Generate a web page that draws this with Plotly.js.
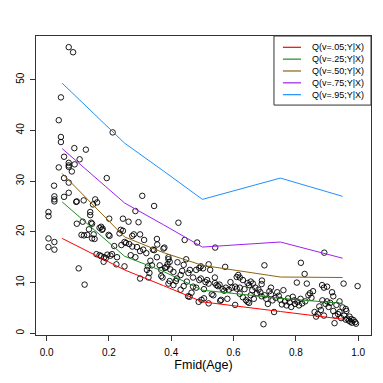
<!DOCTYPE html>
<html>
<head>
<meta charset="utf-8">
<script src="https://cdn.plot.ly/plotly-3.0.1.min.js"></script>
<style>
  html, body { margin: 0; padding: 0; background: #fff; }
  #graph { width: 383px; height: 383px; }
</style>
</head>
<body>
<div id="graph"></div>
<script>
var fmid = [
  0.006,0.006,0.006,0.006,0.025,0.025,0.024,0.025,0.025,0.025,0.039,0.039,0.046,0.046,0.046,0.056,0.056,0.056,
  0.071,0.085,0.071,0.071,0.071,0.071,0.071,0.089,0.090,0.081,0.095,0.097,0.097,0.103,
  0.106,0.126,0.119,0.116,0.112,0.12,0.13,0.122,0.136,0.14,0.14,0.143,0.146,0.149,0.151,0.154,0.146,0.156,
  0.162,0.17,0.175,0.178,0.18,0.16,0.17,0.175,0.185,0.19,0.195,0.183,0.193,0.199,
  0.212,0.201,0.202,0.217,0.226,0.224,0.21,0.205,0.234,0.238,0.245,0.245,0.25,0.255,0.25,0.263,0.27,0.275,
  0.28,0.285,0.275,0.29,0.295,0.285,0.265,0.3,0.24,
  0.307,0.345,0.313,0.30,0.31,0.32,0.354,0.355,0.341,0.345,0.375,0.378,0.333,0.338,0.325,0.322,0.33,0.327,
  0.30,0.368,0.372,0.38,0.385,0.368,0.363,0.354,0.391,0.388,0.397,0.395,0.391,0.391,0.395,
  0.423,0.443,0.448,0.483,0.407,0.407,0.415,0.418,0.43,0.435,0.455,0.46,0.47,0.454,0.459,0.49,0.495,0.48,
  0.49,0.495,0.44,0.42,0.45,0.47,0.465,0.48,0.43,0.44,0.488,0.497,
  0.502,0.52,0.525,0.541,0.505,0.51,0.515,0.52,0.54,0.545,0.55,0.555,0.54,0.573,0.53,0.535,0.557,0.56,
  0.565,0.57,0.575,0.585,0.59,0.595,0.58,0.505,0.52,
  0.61,0.615,0.62,0.63,0.605,0.61,0.62,0.635,0.645,0.65,0.655,0.66,0.662,0.67,0.68,0.691,0.69,0.699,
  0.63,0.64,0.645,0.65,0.655,0.665,0.675,0.686,0.69,0.696,0.62,0.605,
  0.70,0.705,0.71,0.715,0.72,0.725,0.73,0.735,0.74,0.745,0.75,0.755,0.76,0.765,0.77,0.775,0.78,0.785,
  0.79,0.795,0.797,0.72,
  0.803,0.816,0.828,0.835,0.805,0.81,0.815,0.82,0.83,0.84,0.845,0.85,0.855,0.86,0.865,0.87,0.875,0.88,
  0.884,0.89,0.891,0.895,0.9,0.9,0.885,0.89,
  0.905,0.91,0.916,0.92,0.92,0.924,0.926,0.93,0.935,0.94,0.945,0.95,0.953,0.955,0.96,0.962,0.965,0.97,
  0.972,0.975,0.978,0.98,0.985,0.99,0.993,0.998,0.96,0.94
];
var yval = [
  23.9,23.1,18.7,17.0,18.0,16.5,29.1,27.0,26.4,26.0,42.0,32.7,46.5,38.7,37.7,34.8,30.6,26.9,
  56.4,55.4,33.6,33.1,32.8,29.7,27.7,36.5,33.3,31.9,25.9,26.0,21.6,12.8,
  34.3,36.2,26.2,22.0,19.4,19.3,19.4,9.6,20.5,23.9,23.3,21.8,21.6,25.4,19.5,18.6,18.7,26.4,
  25.8,20.8,21.0,20.4,20.6,15.6,15.4,15.2,15.0,14.8,15.5,14.1,30.6,19.4,
  39.6,22.6,19.2,17.2,15.0,13.6,15.6,15.3,19.7,20.4,20.2,22.6,18.0,17.8,13.2,22.0,15.4,19.2,
  19.5,24.1,17.1,17.0,21.9,15.0,17.6,19.5,17.4,
  27.1,25.1,18.4,16.2,16.5,15.8,18.6,17.5,16.5,16.4,16.7,16.9,14.3,13.4,13.2,12.5,11.9,11.0,
  10.8,11.3,11.0,12.9,13.1,12.5,13.4,15.0,15.0,13.6,12.6,14.1,14.6,9.8,10.3,
  21.8,18.4,14.6,17.9,12.1,9.5,10.3,10.8,11.5,12.3,11.9,12.5,9.2,7.3,7.2,12.9,13.2,12.5,
  10.5,10.8,13.5,14.0,10.2,11.0,8.0,9.0,8.6,9.3,6.2,6.6,
  12.8,13.6,12.5,16.9,8.7,10.1,10.5,9.8,9.9,9.5,9.3,9.6,11.0,13.1,7.7,7.5,6.4,6.6,
  8.7,8.4,9.0,8.6,10.1,9.0,6.8,6.9,5.9,
  11.1,11.5,11.0,10.5,9.2,8.8,9.0,8.7,9.9,9.5,10.2,8.5,9.8,9.0,8.6,10.4,9.7,13.4,
  7.1,6.5,6.2,6.0,7.5,6.8,7.9,8.1,7.3,1.8,7.8,5.6,
  7.5,6.8,5.8,8.3,7.7,6.5,4.2,7.0,8.1,7.4,6.6,5.7,8.5,6.3,5.5,6.9,6.1,5.2,
  7.2,6.5,5.8,9.0,
  10.0,13.9,11.7,9.8,6.2,5.5,6.8,5.9,6.3,7.5,7.9,7.0,8.3,4.2,3.3,3.8,5.3,4.6,
  9.5,9.0,15.9,5.8,9.2,6.3,6.5,3.5,
  5.2,6.0,8.1,7.3,4.4,2.0,3.5,5.6,3.8,4.2,3.0,5.1,9.8,3.5,2.7,4.4,2.9,2.5,
  3.3,2.3,2.8,2.1,2.6,2.2,1.9,9.3,4.8,6.3
];

// conditional quantile curves
var qx = [0.05, 0.15, 0.25, 0.375, 0.5, 0.75, 0.95];
var q05 = [18.7, 15.6, 12.5, 9.4, 6.2, 4.3, 2.8];
var q25 = [25.9, 20.5, 15.2, 12.2, 8.5, 6.9, 5.9];
var q50 = [31.5, 25.2, 19.0, 15.9, 13.4, 11.1, 11.0];
var q75 = [36.4, 31.0, 25.7, 21.4, 17.0, 18.0, 14.8];
var q95 = [49.3, 43.4, 37.5, 32.0, 26.4, 30.6, 27.0];

var qNames = ['Q(v=.05;Y|X)', 'Q(v=.25;Y|X)', 'Q(v=.50;Y|X)', 'Q(v=.75;Y|X)', 'Q(v=.95;Y|X)'];
var qColors = ['#ff0000', '#1f8b1f', '#8b6410', '#a020f0', '#1e90ff'];
var qVals = [q05, q25, q50, q75, q95];

var fnt = 'Liberation Sans, Arial, Helvetica, sans-serif';

var traces = [{
    x: fmid,
    y: yval,
    mode: 'markers',
    type: 'scatter',
    marker: {symbol: 'circle-open', size: 5.5, color: '#000', line: {width: 0.9}},
    hoverinfo: 'skip'
}];

for (var i = 0; i < qVals.length; i++){
    traces.push({
        x: qx,
        y: qVals[i],
        mode: 'lines',
        type: 'scatter',
        line: {color: qColors[i], width: 1},
        name: qNames[i]
    });
}

// R-style compact legend box (plotly's own legend rows are too tall)
var shapes = [{
    type: 'rect', xref: 'paper', yref: 'paper',
    x0: 0.7104, x1: 1, y0: 0.769, y1: 1,
    line: {color: '#333', width: 1}, fillcolor: '#fff', layer: 'above'
}];
var annotations = [];
var rowTop = 0.9622, rowGap = 0.0396;
for (var j = 0; j < qNames.length; j++){
    var ly = rowTop - j * rowGap;
    shapes.push({
        type: 'line', xref: 'paper', yref: 'paper',
        x0: 0.737, x1: 0.791, y0: ly, y1: ly,
        line: {color: qColors[j], width: 1.2}, layer: 'above'
    });
    annotations.push({
        xref: 'paper', yref: 'paper', x: 0.818, y: ly,
        xanchor: 'left', yanchor: 'middle', showarrow: false,
        text: qNames[j], font: {size: 9, family: fnt, color: '#000'}
    });
}

var layout = {
    width: 383,
    height: 383,
    margin: {l: 36, r: 12, t: 36, b: 48},
    paper_bgcolor: '#fff',
    plot_bgcolor: '#fff',
    font: {family: fnt, color: '#000', size: 10},
    showlegend: false,
    xaxis: {
        range: [-0.034, 1.041],
        tickvals: [0, 0.2, 0.4, 0.6, 0.8, 1.0],
        ticktext: ['0.0', '0.2', '0.4', '0.6', '0.8', '1.0'],
        ticks: 'outside', ticklen: 5, tickcolor: '#333',
        ticklabelstandoff: 3,
        showline: true, mirror: true, linecolor: '#333', linewidth: 1,
        showgrid: false, zeroline: false,
        tickfont: {size: 10},
        title: {text: 'Fmid(Age)', font: {size: 12.5}, standoff: 3}
    },
    yaxis: {
        range: [-0.33, 58.6],
        tickvals: [0, 10, 20, 30, 40, 50],
        tickangle: -90,
        ticks: 'outside', ticklen: 5, tickcolor: '#333',
        ticklabelstandoff: 2,
        showline: true, mirror: true, linecolor: '#333', linewidth: 1,
        showgrid: false, zeroline: false,
        tickfont: {size: 10}
    },
    shapes: shapes,
    annotations: annotations
};

Plotly.newPlot('graph', traces, layout, {staticPlot: true});
</script>
</body>
</html>
